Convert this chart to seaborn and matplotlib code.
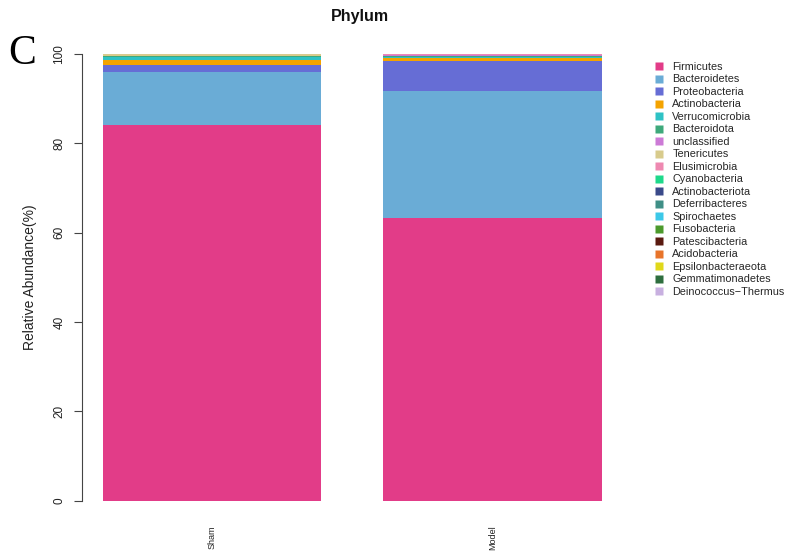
import matplotlib
matplotlib.use("Agg")
import matplotlib.pyplot as plt
from matplotlib.lines import Line2D
import numpy as np
import pandas as pd
import seaborn as sns

sns.set_theme(style="white")
plt.rcParams["font.family"] = ["Liberation Sans", "DejaVu Sans"]

samples = ["Sham", "Model"]
phyla = [
    "Firmicutes", "Bacteroidetes", "Proteobacteria", "Actinobacteria",
    "Verrucomicrobia", "Bacteroidota", "unclassified", "Tenericutes",
    "Elusimicrobia", "Cyanobacteria", "Actinobacteriota", "Deferribacteres",
    "Spirochaetes", "Fusobacteria", "Patescibacteria", "Acidobacteria",
    "Epsilonbacteraeota", "Gemmatimonadetes", "Deinococcus\u2212Thermus",
]
colors = [
    "#E23C88", "#6AACD6", "#666DD5", "#F4A300",
    "#2EC2C5", "#3EA97B", "#CC7AD6", "#D8CB8C",
    "#EE89B1", "#1ED98B", "#3A4A8A", "#3F8F86",
    "#3CC8E8", "#4C9A2C", "#5A1A10", "#E8742A",
    "#E0D81A", "#2E6E3E", "#C8B0E0",
]
sham = [84.0, 11.9, 1.6, 1.2, 0.6, 0.30, 0.05, 0.25, 0.05, 0.01,
        0.01, 0.01, 0.01, 0.005, 0.005, 0.005, 0.005, 0.005, 0.005]
model = [63.2, 28.5, 6.7, 0.6, 0.3, 0.35, 0.05, 0.12, 0.12, 0.01,
         0.01, 0.01, 0.01, 0.005, 0.005, 0.005, 0.005, 0.005, 0.005]

df = pd.DataFrame({"Sham": sham, "Model": model}, index=phyla)
cum = df.cumsum()

fig = plt.figure(figsize=(7.97, 5.51), dpi=100)
ax = fig.add_axes([82 / 797, 1 - 518.6 / 551, (638 - 82) / 797, (518.6 - 36.1) / 551])

# stacked bars: draw cumulative totals from the top layer down so each overlays the next
for name, col in zip(reversed(phyla), reversed(colors)):
    layer = pd.DataFrame({"sample": samples, "value": cum.loc[name, samples].values})
    sns.barplot(data=layer, x="sample", y="value", order=samples, color=col,
                width=0.78, saturation=1, edgecolor="none", linewidth=0, ax=ax)

ax.set_xlim(-0.464, 1.52)
ax.set_ylim(-4, 104)
ax.set_yticks([0, 20, 40, 60, 80, 100])
ax.set_yticklabels(["0", "20", "40", "60", "80", "100"], rotation=90,
                   va="center", fontsize=8.5, color="#222222")
ax.tick_params(axis="y", length=6, width=0.8, color="#444444", pad=6, left=True)
ax.tick_params(axis="x", length=0, pad=5)
ax.set_xticks([0, 1])
ax.set_xticklabels(samples, rotation=90, fontsize=6.5, va="top", color="#222222")
for s in ["top", "right", "bottom"]:
    ax.spines[s].set_visible(False)
ax.spines["left"].set_bounds(0, 100)
ax.spines["left"].set_color("#444444")
ax.spines["left"].set_linewidth(0.8)
ax.set_xlabel("")
ax.set_ylabel("Relative Abundance(%)", fontsize=10, color="#222222", labelpad=12)

fig.text(360 / 797, 1 - 16 / 551, "Phylum", ha="center", va="center",
         fontsize=11.5, fontweight="bold", color="#111111")
fig.text(8 / 797, 1 - 64 / 551, "C", ha="left", va="baseline",
         fontsize=30, family="Liberation Serif", color="#000000")

handles = [Line2D([], [], linestyle="none", marker="s", markersize=6,
                  markerfacecolor=c, markeredgecolor="none") for c in colors]
fig.legend(handles, phyla, loc="upper left", bbox_to_anchor=(655 / 797, 1 - 62 / 551),
           frameon=False, fontsize=7.8, labelspacing=0.23, handlelength=0.8,
           handletextpad=0.8, borderaxespad=0, borderpad=0)

fig.savefig("out.png", dpi=100)
